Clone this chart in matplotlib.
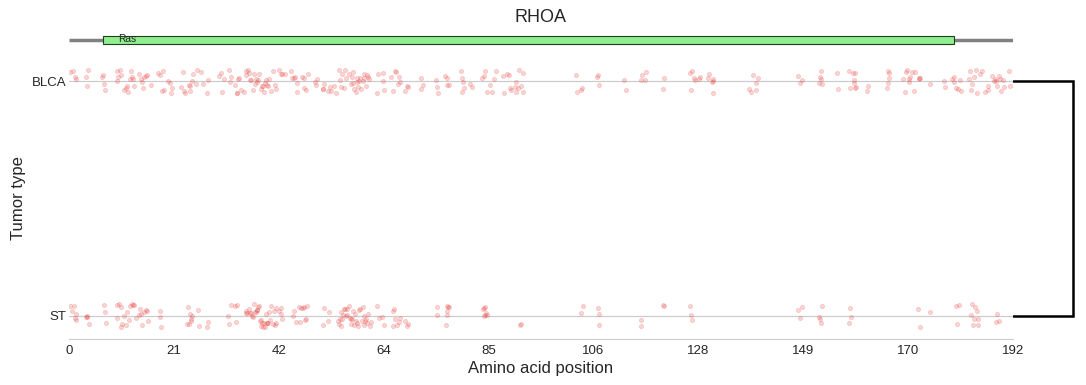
import matplotlib
matplotlib.use("Agg")
import matplotlib.pyplot as plt
import numpy as np
import pandas as pd
import seaborn as sns
from matplotlib.patches import Rectangle

"""
Mutation positions along RHOA, one strip per tumor type, with the
protein domain drawn on top and a small dendrogram on the right.
"""

protein_name = "RHOA"
protein_length = 192

domain_names = ["Ras"]
domain_starts = [7]
domain_ends = [180]

tumor_types = ["BLCA", "ST"]
cluster_distance = 6.0  # height of the single merge in the dendrogram

# amino acid positions
blca_positions = [
    0.2, 0.8, 1.2, 1.4, 3.4, 3.6, 3.9, 6.8, 7.0, 7.1, 7.3, 9.7, 9.8, 10.0, 10.4, 10.6,
    11.1, 11.5, 11.7, 11.9, 12.4, 12.7, 12.9, 13.1, 13.2, 14.2, 14.6, 14.8, 15.1, 15.3,
    15.7, 15.9, 16.7, 18.2, 18.6, 19.0, 19.1, 19.3, 20.2, 20.5, 20.8, 21.0, 22.7, 23.1,
    23.3, 23.5, 24.4, 24.6, 24.7, 25.1, 25.3, 25.8, 26.1, 26.9, 27.3, 28.1, 28.3, 30.5,
    31.0, 31.2, 31.5, 32.5, 32.7, 33.0, 33.7, 34.1, 34.2, 34.4, 34.6, 34.9, 35.6, 35.9,
    36.1, 36.4, 36.7, 36.9, 37.1, 37.5, 37.6, 37.8, 38.0, 38.3, 38.4, 38.6, 39.0, 39.2,
    39.5, 39.7, 39.8, 40.0, 40.2, 40.5, 40.7, 41.0, 41.4, 41.8, 42.0, 42.7, 43.1, 43.4,
    43.9, 45.1, 45.4, 45.8, 45.9, 46.3, 46.4, 47.3, 47.7, 47.8, 48.3, 48.7, 50.0, 50.2,
    50.4, 51.6, 51.7, 51.9, 52.7, 53.1, 53.2, 53.8, 54.3, 55.0, 55.1, 55.3, 55.5, 56.0,
    56.1, 56.3, 57.0, 57.3, 57.5, 57.7, 57.8, 58.0, 58.4, 58.5, 58.6, 58.8, 59.0, 59.2,
    59.3, 59.7, 59.9, 60.0, 60.5, 60.7, 60.9, 61.1, 62.7, 62.9, 63.8, 63.9, 64.1, 65.4,
    66.0, 66.3, 66.6, 67.0, 67.2, 67.4, 68.3, 68.8, 69.0, 71.5, 71.6, 71.9, 74.6, 74.9,
    75.0, 76.5, 76.8, 76.9, 77.2, 79.7, 79.9, 80.0, 80.1, 80.3, 81.6, 81.9, 84.1, 84.4,
    84.7, 85.1, 85.6, 86.0, 86.4, 86.8, 88.2, 88.5, 89.0, 89.4, 89.7, 90.0, 90.7, 90.9,
    91.0, 91.4, 91.6, 91.9, 92.3, 92.4, 103.1, 103.3, 104.1, 104.3, 107.3, 107.5, 107.7,
    112.9, 113.2, 116.3, 116.5, 117.2, 117.3, 120.9, 121.1, 126.3, 126.5, 126.7, 127.2,
    127.4, 128.2, 128.3, 129.9, 130.1, 130.8, 130.9, 131.0, 131.0, 138.4, 138.7, 139.2,
    139.7, 139.8, 140.1, 148.3, 148.7, 149.1, 152.5, 152.8, 152.9, 153.0, 153.1, 156.2,
    156.4, 158.7, 158.9, 159.4, 159.6, 159.7, 159.8, 159.9, 160.1, 162.4, 162.5, 166.4,
    166.5, 166.6, 166.7, 166.8, 169.7, 170.0, 170.2, 170.4, 170.8, 170.9, 171.1, 171.4,
    171.8, 172.0, 172.8, 172.9, 173.0, 175.2, 177.9, 178.1, 179.6, 179.9, 180.0, 180.4,
    180.9, 181.3, 181.5, 183.0, 183.3, 183.5, 183.6, 184.0, 184.5, 184.7, 185.3, 185.7,
    186.4, 186.9, 187.0, 187.7, 188.1, 188.4, 188.5, 188.7, 189.1, 189.4, 189.6, 189.9,
    190.1, 191.1, 191.4,
]

st_positions = [
    0.2, 0.7, 1.0, 1.2, 1.4, 1.4, 3.4, 3.6, 3.7, 4.1, 7.1, 7.3, 7.5, 9.7, 9.8, 10.2,
    10.5, 10.6, 10.8, 11.1, 11.5, 11.7, 12.2, 12.5, 12.9, 13.1, 13.2, 13.6, 14.2, 14.4,
    14.7, 14.9, 15.3, 15.6, 15.8, 16.1, 18.5, 18.6, 18.8, 24.1, 24.2, 24.4, 24.7, 24.9,
    24.9, 25.1, 26.2, 26.4, 28.1, 28.3, 32.3, 32.5, 32.9, 33.7, 33.9, 34.1, 35.9, 36.1,
    36.3, 36.6, 36.8, 37.1, 37.3, 37.5, 37.6, 37.8, 38.0, 38.2, 38.3, 38.4, 38.6, 38.8,
    39.0, 39.1, 39.3, 39.5, 39.7, 39.8, 40.0, 40.2, 40.3, 40.5, 40.7, 40.9, 41.0, 41.4,
    41.7, 41.9, 42.0, 42.2, 42.7, 43.1, 43.2, 43.4, 45.6, 45.8, 46.1, 46.8, 47.0, 47.1,
    47.5, 47.8, 47.9, 48.3, 48.5, 51.7, 51.9, 52.7, 52.9, 54.7, 54.9, 55.1, 55.3, 55.4,
    55.6, 55.8, 55.9, 56.1, 56.3, 56.5, 56.6, 56.9, 57.2, 57.3, 57.4, 57.6, 57.8, 58.0,
    58.1, 58.3, 58.6, 58.8, 59.0, 59.2, 59.5, 59.7, 60.0, 60.1, 60.3, 60.5, 60.7, 60.8,
    61.2, 61.4, 62.7, 63.1, 63.7, 64.1, 65.8, 66.0, 66.1, 66.4, 66.8, 67.1, 67.3, 68.3,
    68.7, 69.0, 74.8, 74.9, 76.6, 76.8, 76.9, 76.9, 77.1, 77.3, 84.3, 84.4, 84.5, 84.7,
    84.7, 84.9, 85.1, 91.7, 92.0, 104.1, 104.5, 107.5, 107.7, 107.7, 116.3, 116.3,
    120.9, 121.0, 126.3, 126.6, 126.8, 148.3, 148.7, 149.0, 152.6, 152.7, 152.9, 153.1,
    158.7, 158.8, 159.0, 172.7, 173.0, 175.1, 180.5, 180.7, 181.1, 183.4, 183.6, 183.8,
    184.0, 184.3, 184.6, 184.8, 184.8, 188.5, 188.8, 189.2,
]

W, H = 1086, 385


def fig_rect(left, top, right, bottom):
    # pixel box -> figure fraction [l, b, w, h]
    return [left / W, 1 - bottom / H, (right - left) / W, (bottom - top) / H]


def main():
    sns.set_style("white")
    plt.rcParams['font.family'] = ['Liberation Sans', 'DejaVu Sans']

    df = pd.DataFrame({
        "position": blca_positions + st_positions,
        "tumor": ["BLCA"] * len(blca_positions) + ["ST"] * len(st_positions),
    })

    fig = plt.figure(figsize=(W / 100, H / 100), dpi=100)

    # strip of mutations
    ax = fig.add_axes(fig_rect(69, 58, 1013, 339))
    sns.stripplot(data=df, x="position", y="tumor", order=tumor_types, orient="h",
                  jitter=0.05, size=3.0, color="#e8403f", alpha=0.22,
                  linewidth=0.6, edgecolor="#e8403f", ax=ax)
    ax.set_xlim(0, protein_length)
    ax.set_ylim(1.1, -0.1)
    ticks = np.linspace(0, protein_length, 10)
    ax.set_xticks(ticks)
    ax.set_xticklabels([str(int(t)) for t in ticks], fontsize=9.5, color="#262626")
    ax.tick_params(axis="y", labelsize=9.5, labelcolor="#262626", pad=2, length=0)
    ax.tick_params(axis="x", length=0, pad=4)
    ax.grid(axis="y", color="#cccccc", lw=0.9)
    ax.set_axisbelow(True)
    for s in ["left", "top", "right"]:
        ax.spines[s].set_visible(False)
    ax.spines["bottom"].set_color("#cccccc")
    ax.set_xlabel("Amino acid position", fontsize=12, color="#262626", labelpad=3)
    ax.set_ylabel("Tumor type", fontsize=12, color="#262626", labelpad=4)

    # protein backbone + domains
    ax_p = fig.add_axes(fig_rect(69, 30, 1013, 50))
    ax_p.set_xlim(0, protein_length)
    ax_p.set_ylim(-1, 1)
    ax_p.plot([0, protein_length], [0, 0], color="gray", lw=2.5, solid_capstyle="butt")
    for name, start, end in zip(domain_names, domain_starts, domain_ends):
        ax_p.add_patch(Rectangle((start, -0.4), end - start, 0.8,
                                 facecolor="#90ee90", edgecolor="#1f3f1f", lw=0.8, zorder=3))
        ax_p.text(start + 3, 0.05, name, fontsize=7.3, color="#262626",
                  ha="left", va="center", zorder=4)
    ax_p.axis("off")

    fig.text(541 / W, 1 - 18 / H, protein_name, fontsize=13, color="#262626",
             ha="center", va="center")

    # dendrogram of the tumor types
    ax_d = fig.add_axes(fig_rect(1013, 58, 1083, 339))
    ax_d.set_ylim(1.1, -0.1)
    ax_d.set_xlim(0, cluster_distance * 70 / 60)
    ax_d.plot([0, cluster_distance, cluster_distance, 0], [0, 0, 1, 1],
              color="black", lw=1.8, solid_joinstyle="miter")
    ax_d.axis("off")

    fig.savefig("out.png", dpi=100)


if __name__ == "__main__":
    main()
